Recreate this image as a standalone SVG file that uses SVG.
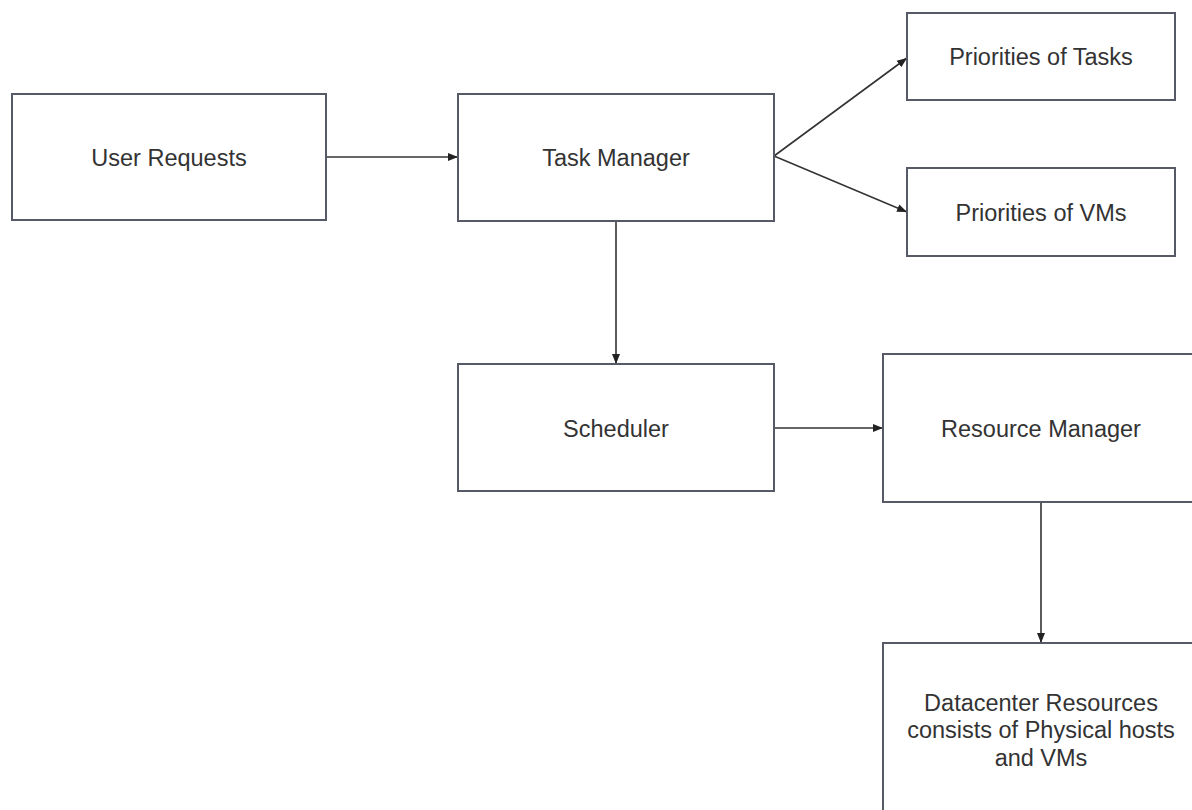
<svg xmlns="http://www.w3.org/2000/svg" width="1192" height="810" viewBox="0 0 1192 810">
<defs>
<marker id="ah" viewBox="0 0 10 10" refX="10" refY="5" markerWidth="10" markerHeight="10" markerUnits="userSpaceOnUse" orient="auto">
<path d="M0,1 L10,5 L0,9 z" fill="#222"/>
</marker>
<style>
.box{fill:#fff;stroke:#555a66;stroke-width:2}
.lbl{font-family:"Liberation Sans",Arial,sans-serif;font-size:23.5px;fill:#333;text-anchor:middle}
.conn{stroke:#333;stroke-width:1.6;fill:none;marker-end:url(#ah)}
</style>
</defs>
<rect width="1192" height="810" fill="#fff"/>
<g id="connectors">
<line class="conn" x1="326" y1="157" x2="458" y2="157"/>
<line class="conn" x1="774" y1="156" x2="907" y2="58"/>
<line class="conn" x1="774" y1="156" x2="907" y2="212"/>
<line class="conn" x1="616" y1="221" x2="616" y2="364"/>
<line class="conn" x1="774" y1="428" x2="883" y2="428"/>
<line class="conn" x1="1041" y1="502" x2="1041" y2="643"/>
</g>
<g id="user-requests">
<rect class="box" x="12" y="94" width="314" height="126"/>
<text class="lbl" x="169" y="166">User Requests</text>
</g>
<g id="task-manager">
<rect class="box" x="458" y="94" width="316" height="127"/>
<text class="lbl" x="616" y="166">Task Manager</text>
</g>
<g id="priorities-tasks">
<rect class="box" x="907" y="13" width="268" height="87"/>
<text class="lbl" x="1041" y="65">Priorities of Tasks</text>
</g>
<g id="priorities-vms">
<rect class="box" x="907" y="168" width="268" height="88"/>
<text class="lbl" x="1041" y="221">Priorities of VMs</text>
</g>
<g id="scheduler">
<rect class="box" x="458" y="364" width="316" height="127"/>
<text class="lbl" x="616" y="437">Scheduler</text>
</g>
<g id="resource-manager">
<rect class="box" x="883" y="354" width="320" height="148"/>
<text class="lbl" x="1041" y="437">Resource Manager</text>
</g>
<g id="datacenter">
<rect class="box" x="883" y="643" width="320" height="180"/>
<text class="lbl" x="1041" y="711">Datacenter Resources</text>
<text class="lbl" x="1041" y="738">consists of Physical hosts</text>
<text class="lbl" x="1041" y="766">and VMs</text>
</g>
</svg>
